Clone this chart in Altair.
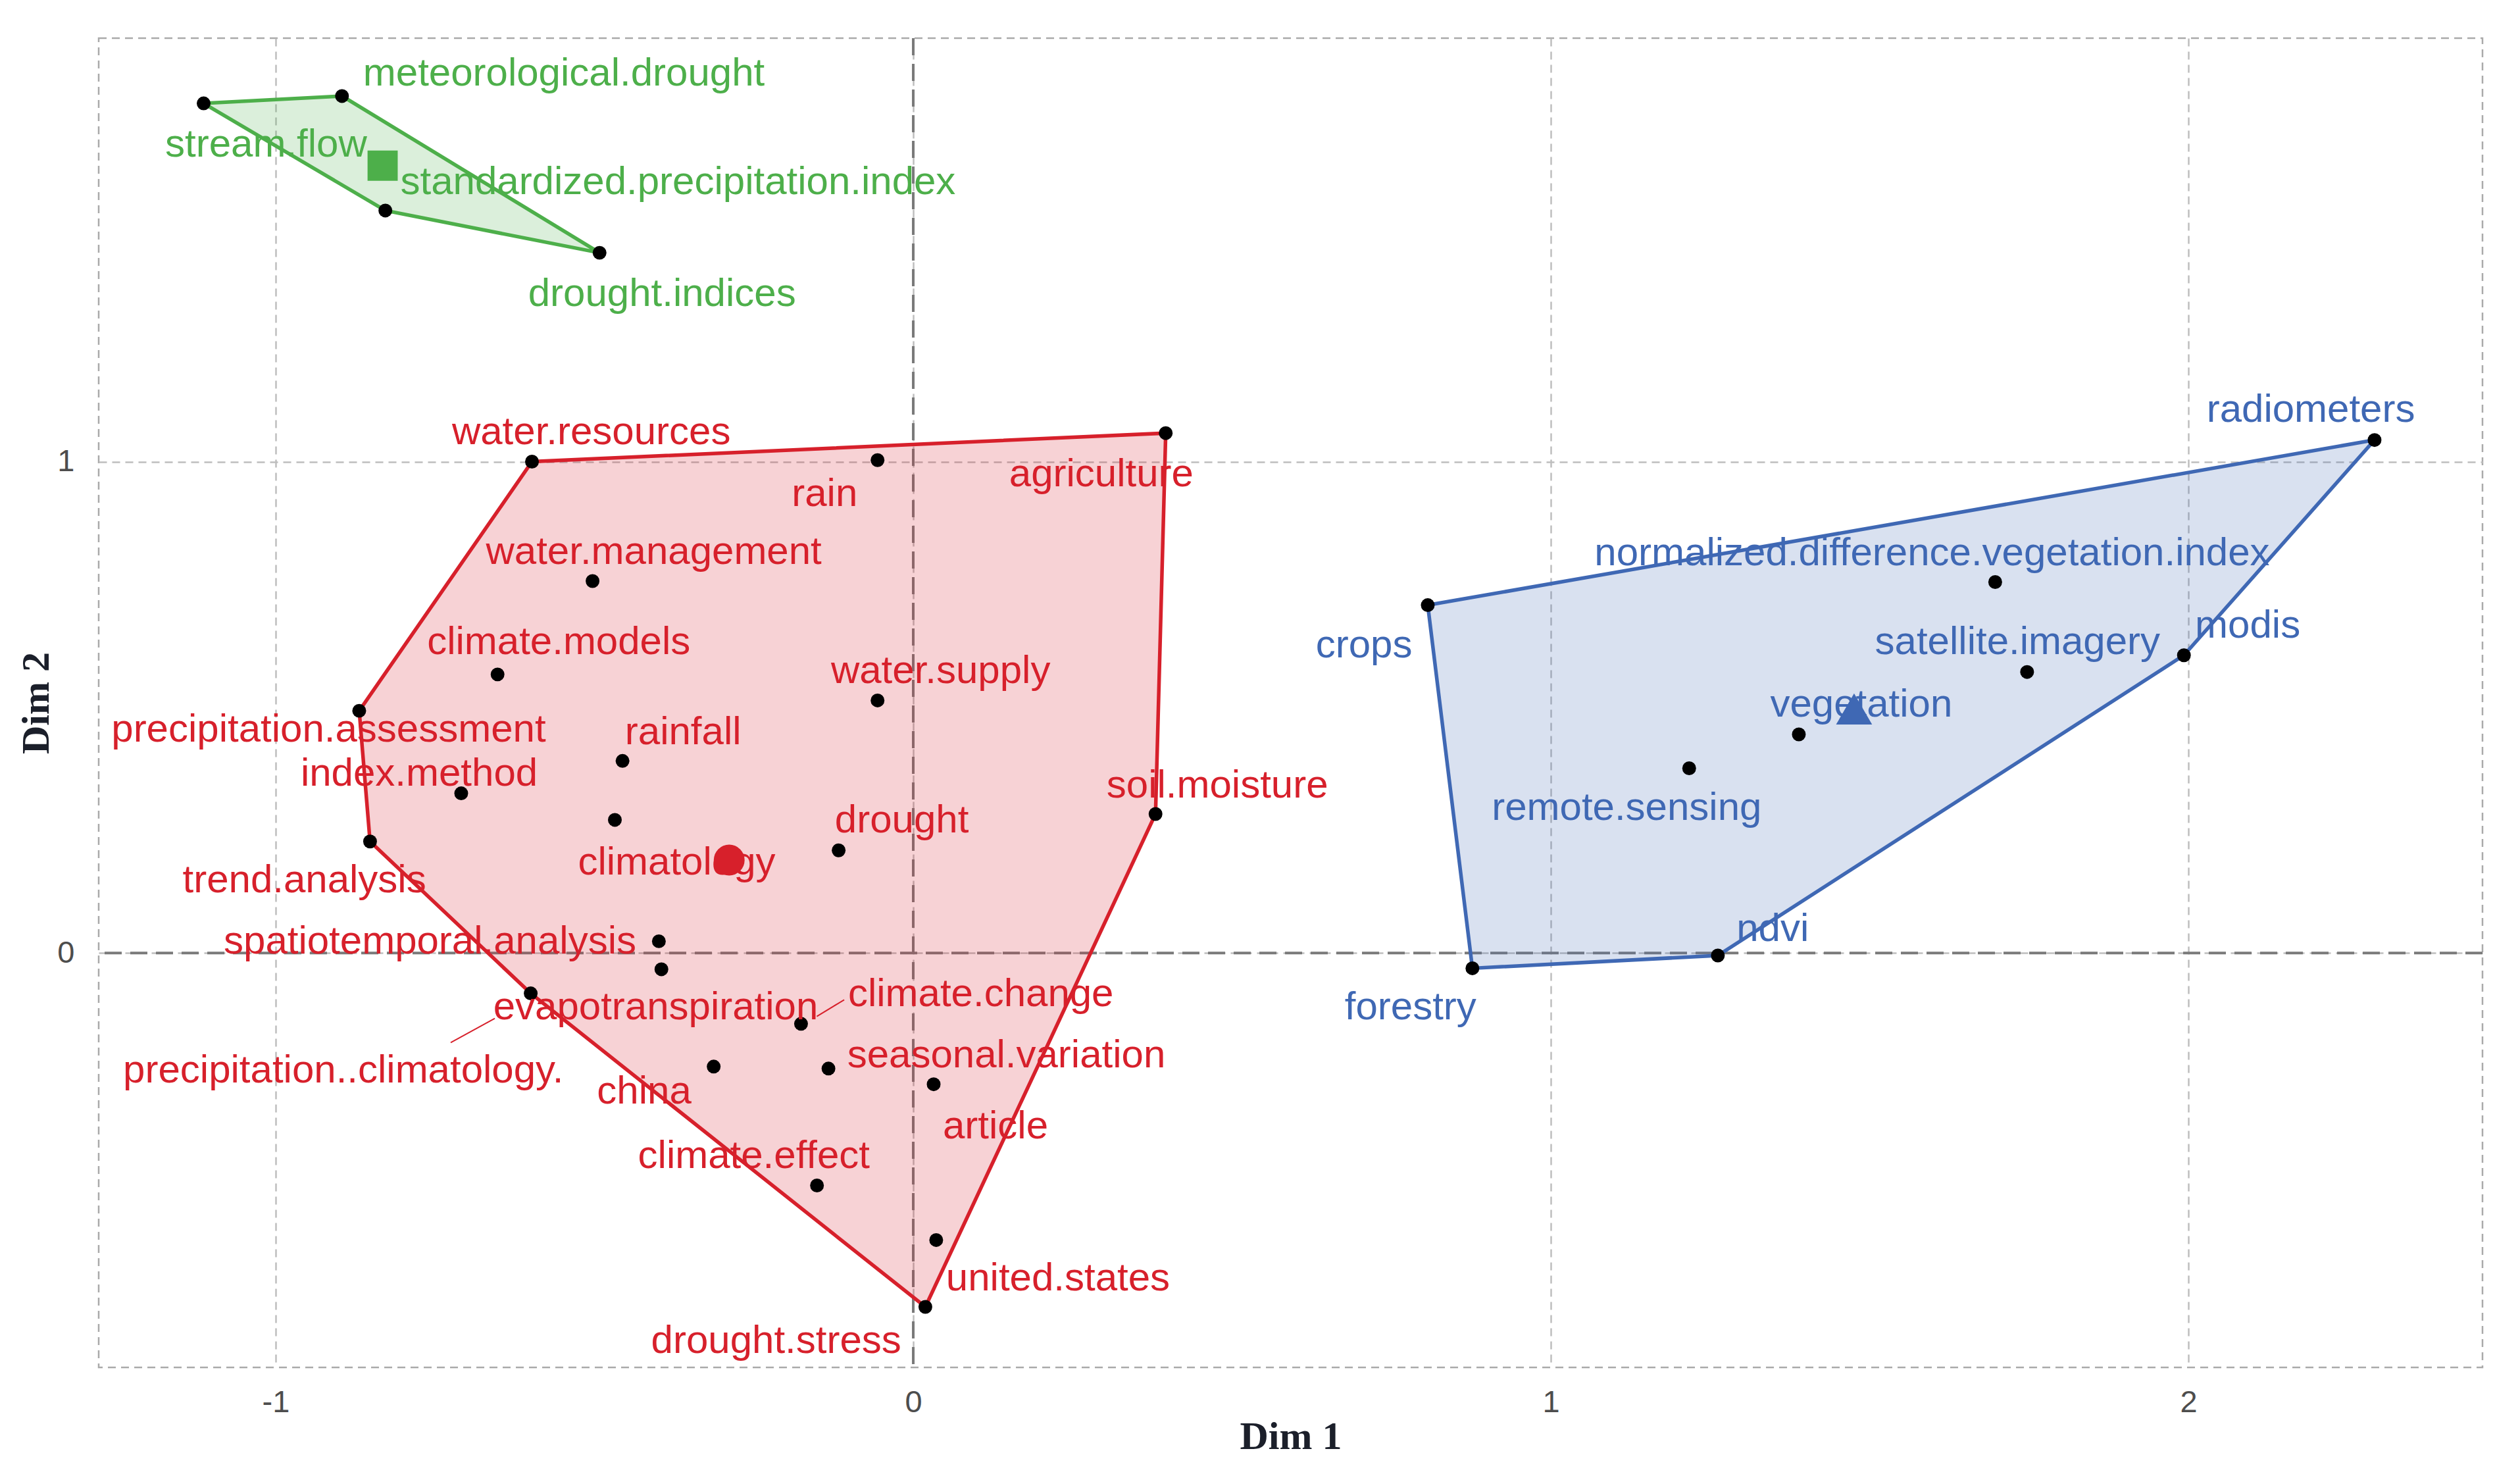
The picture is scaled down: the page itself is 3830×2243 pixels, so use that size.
import altair as alt
import pandas as pd

# ---------------- data ----------------
# cluster 1 (red)
red_terms = ["water.resources", "rain", "agriculture", "water.management", "climate.models",
             "water.supply", "precipitation.assessment", "rainfall", "index.method", "climatology",
             "drought", "soil.moisture", "trend.analysis", "spatiotemporal.analysis",
             "evapotranspiration", "precipitation..climatology.", "climate.change",
             "seasonal.variation", "china", "article", "climate.effect", "united.states",
             "drought.stress"]
red_x = [-0.598, -0.056, 0.396, -0.503, -0.652, -0.056, -0.869, -0.456, -0.709, -0.468,
         -0.117, 0.380, -0.852, -0.399, -0.395, -0.600, -0.176, -0.133, -0.313, 0.032,
         -0.151, 0.036, 0.019]
red_y = [1.000, 1.003, 1.058, 0.757, 0.567, 0.514, 0.493, 0.391, 0.325, 0.271,
         0.209, 0.283, 0.227, 0.024, -0.033, -0.082, -0.144, -0.235, -0.231, -0.267,
         -0.473, -0.584, -0.720]
red_label_x = [-0.505, -0.139, 0.295, -0.407, -0.556, 0.043, -0.917, -0.361, -0.775, -0.371,
               -0.018, 0.477, -0.955, -0.758, -0.404, -0.894, 0.106, 0.146, -0.422, 0.129,
               -0.250, 0.227, -0.215]
red_label_y = [1.059, 0.934, 0.974, 0.816, 0.633, 0.574, 0.455, 0.449, 0.364, 0.184,
               0.269, 0.341, 0.148, 0.023, -0.111, -0.239, -0.084, -0.209, -0.282, -0.353,
               -0.413, -0.662, -0.790]

# cluster 2 (green)
green_terms = ["meteorological.drought", "stream.flow", "standardized.precipitation.index",
               "drought.indices"]
green_x = [-0.896, -1.113, -0.828, -0.492]
green_y = [1.744, 1.729, 1.511, 1.425]
green_label_x = [-0.548, -1.015, -0.369, -0.394]
green_label_y = [1.789, 1.645, 1.568, 1.341]

# cluster 3 (blue)
blue_terms = ["radiometers", "normalized.difference.vegetation.index", "crops",
              "satellite.imagery", "modis", "vegetation", "remote.sensing", "ndvi", "forestry"]
blue_x = [2.292, 1.697, 0.807, 1.747, 1.993, 1.389, 1.217, 1.262, 0.877]
blue_y = [1.044, 0.755, 0.708, 0.572, 0.606, 0.445, 0.376, -0.005, -0.031]
blue_label_x = [2.192, 1.598, 0.707, 1.732, 2.093, 1.487, 1.119, 1.348, 0.780]
blue_label_y = [1.105, 0.813, 0.626, 0.633, 0.666, 0.505, 0.295, 0.049, -0.111]

# label connector segments (ggrepel style)
seg_cluster = ["1", "1"]
seg_x1 = [-0.7255, -0.1083]
seg_y1 = [-0.1823, -0.0951]
seg_x2 = [-0.6563, -0.1513]
seg_y2 = [-0.1331, -0.1289]

x_ticks = [-1, 0, 1, 2]
y_ticks = [0, 1]
x_domain = [-1.2776, 2.4613]
y_domain = [-0.8432, 1.8617]

clusters = ["1", "2", "3"]
cluster_colors = ["#D7202B", "#4DAF4A", "#3F68B4"]
centroid_shapes = ["circle", "square", "triangle-up"]
centroid_sizes = [2200, 2100, 3000]

# ---------------- frames ----------------
def frame(cid, terms, xs, ys, lxs, lys):
    return pd.DataFrame({"cluster": cid, "term": terms, "x": xs, "y": ys, "lx": lxs, "ly": lys})

pts = pd.concat([
    frame("1", red_terms, red_x, red_y, red_label_x, red_label_y),
    frame("2", green_terms, green_x, green_y, green_label_x, green_label_y),
    frame("3", blue_terms, blue_x, blue_y, blue_label_x, blue_label_y),
], ignore_index=True)


def hull_order(xs, ys):
    idx = sorted(range(len(xs)), key=lambda i: (xs[i], ys[i]))

    def cross(o, a, b):
        return (xs[a] - xs[o]) * (ys[b] - ys[o]) - (ys[a] - ys[o]) * (xs[b] - xs[o])

    lower = []
    for p in idx:
        while len(lower) >= 2 and cross(lower[-2], lower[-1], p) <= 0:
            lower.pop()
        lower.append(p)
    upper = []
    for p in reversed(idx):
        while len(upper) >= 2 and cross(upper[-2], upper[-1], p) <= 0:
            upper.pop()
        upper.append(p)
    return lower[:-1] + upper[:-1]


hull_rows = []
cent_rows = []
for c in clusters:
    sub = pts[pts.cluster == c].reset_index(drop=True)
    order = hull_order(list(sub.x), list(sub.y))
    for k, i in enumerate(order):
        hull_rows.append({"cluster": c, "x": sub.x[i], "y": sub.y[i], "k": k})
    cent_rows.append({"cluster": c, "x": sub.x.mean(), "y": sub.y.mean()})
hull = pd.DataFrame(hull_rows)
cent = pd.DataFrame(cent_rows)
segs = pd.DataFrame({"cluster": seg_cluster, "x": seg_x1, "y": seg_y1, "x2": seg_x2, "y2": seg_y2})

# ---------------- encodings ----------------
sx = alt.Scale(domain=x_domain, nice=False, zero=False)
sy = alt.Scale(domain=y_domain, nice=False, zero=False)
ax_x = alt.Axis(values=x_ticks, labelExpr="datum.value", title="Dim 1", grid=True,
                labelPadding=30, titlePadding=0)
ax_y = alt.Axis(values=y_ticks, labelExpr="datum.value", title="Dim 2", grid=True,
                labelPadding=37, titlePadding=0)


def X(field):
    return alt.X(field, type="quantitative", scale=sx, axis=ax_x)


def Y(field):
    return alt.Y(field, type="quantitative", scale=sy, axis=ax_y)


color_scale = alt.Scale(domain=clusters, range=cluster_colors)

layers = []

# zero reference lines
layers.append(alt.Chart(pd.DataFrame({"v": [0.0]})).mark_rule(
    color="#7A7A7A", strokeWidth=4, strokeDash=[26, 13]).encode(x=X("v")))
layers.append(alt.Chart(pd.DataFrame({"v": [0.0]})).mark_rule(
    color="#7A7A7A", strokeWidth=4, strokeDash=[26, 13]).encode(y=Y("v")))

# cluster hulls
for c, col in zip(clusters, cluster_colors):
    layers.append(alt.Chart(hull[hull.cluster == c]).mark_line(
        interpolate="linear-closed", fill=col, fillOpacity=0.2, stroke=col, strokeWidth=5.5
    ).encode(x=X("x"), y=Y("y"), order=alt.Order("k:Q")))

# points
layers.append(alt.Chart(pts).mark_point(filled=True, color="black", opacity=1, size=440).encode(
    x=X("x"), y=Y("y")))

# connectors
layers.append(alt.Chart(segs).mark_rule(strokeWidth=2).encode(
    x=X("x"), y=Y("y"), x2="x2", y2="y2",
    color=alt.Color("cluster:N", scale=color_scale, legend=None)))

# labels
layers.append(alt.Chart(pts).mark_text(
    font="Liberation Sans", fontSize=60, align="center", baseline="middle").encode(
    x=X("lx"), y=Y("ly"), text="term:N",
    color=alt.Color("cluster:N", scale=color_scale, legend=None)))

# centroids
for c, col, shp, sz in zip(clusters, cluster_colors, centroid_shapes, centroid_sizes):
    layers.append(alt.Chart(cent[cent.cluster == c]).mark_point(
        filled=True, color=col, opacity=1, shape=shp, size=sz).encode(x=X("x"), y=Y("y")))

chart = alt.layer(*layers).properties(
    width=3623, height=2020,
    padding={"left": 150, "top": 58, "right": 57, "bottom": 165},
    autosize=alt.AutoSizeParams(type="none"),
    background="white",
).configure_view(
    stroke="#AAAAAA", strokeDash=[12, 8], strokeWidth=2.5
).configure_axis(
    domain=False, ticks=False,
    gridColor="#BEBEBE", gridDash=[12, 8], gridWidth=2.5,
    labelFont="Liberation Sans", labelFontSize=47, labelColor="#4D4D4D",
    titleFont="Liberation Serif", titleFontSize=60, titleFontWeight="bold",
    titleColor="#1B1F2A",
)

chart.save("out.html", embed_options={"renderer": "svg", "actions": False})
